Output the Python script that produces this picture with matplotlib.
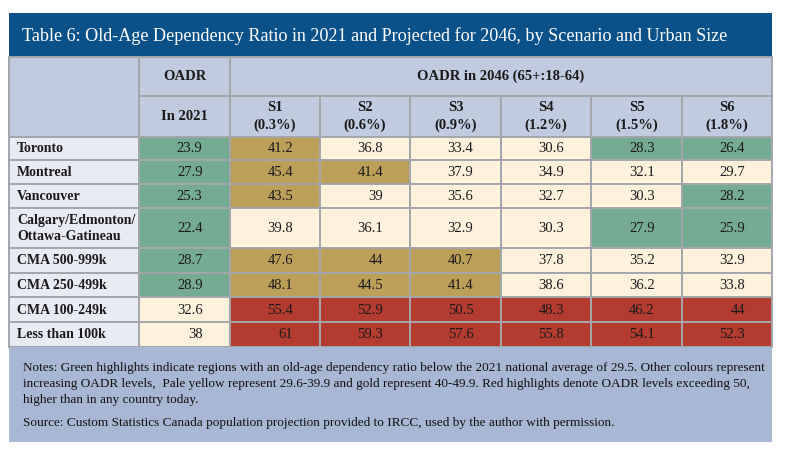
import matplotlib
matplotlib.use("Agg")
import matplotlib.pyplot as plt
from matplotlib.patches import Rectangle

title = ("Table 6: Old-Age Dependency Ratio in 2021 and Projected for 2046, "
         "by Scenario and Urban Size")
regions = ["Toronto", "Montreal", "Vancouver", "Calgary/Edmonton/\nOttawa-Gatineau",
           "CMA 500-999k", "CMA 250-499k", "CMA 100-249k", "Less than 100k"]
scenarios = ["S1\n(0.3%)", "S2\n(0.6%)", "S3\n(0.9%)",
             "S4\n(1.2%)", "S5\n(1.5%)", "S6\n(1.8%)"]
oadr_2021 = [23.9, 27.9, 25.3, 22.4, 28.7, 28.9, 32.6, 38]
s1 = [41.2, 45.4, 43.5, 39.8, 47.6, 48.1, 55.4, 61]
s2 = [36.8, 41.4, 39, 36.1, 44, 44.5, 52.9, 59.3]
s3 = [33.4, 37.9, 35.6, 32.9, 40.7, 41.4, 50.5, 57.6]
s4 = [30.6, 34.9, 32.7, 30.3, 37.8, 38.6, 48.3, 55.8]
s5 = [28.3, 32.1, 30.3, 27.9, 35.2, 36.2, 46.2, 54.1]
s6 = [26.4, 29.7, 28.2, 25.9, 32.9, 33.8, 44, 52.3]
# highlight band of every cell as printed (G green, Y pale yellow, O gold, R red)
shade = ["GOYYYGG", "GOOYYYY", "GOYYYYG", "GYYYYGG",
         "GOOOYYY", "GOOOYYY", "YRRRRRR", "YRRRRRR"]
notes = [
    "Notes: Green highlights indicate regions with an old-age dependency ratio below "
    "the 2021 national average of 29.5. Other colours represent",
    "increasing OADR levels,  Pale yellow represent 29.6-39.9 and gold represent "
    "40-49.9. Red highlights denote OADR levels exceeding 50,",
    "higher than in any country today.",
]
source = ("Source: Custom Statistics Canada population projection provided to IRCC, "
          "used by the author with permission.")

# ---- styling ----
band_colors = {"G": "#75aa93", "Y": "#fef2dd", "O": "#bc9f58", "R": "#b43b2f"}
TITLE_BG = "#0b5189"
HEAD_BG = "#c1cbdf"
LABEL_BG = "#e9ebf3"
NOTE_BG = "#a8b7d3"
GRID = "#a3a6ab"
SERIF = ["Liberation Serif", "DejaVu Serif"]

# layout in pixels
col_edges = [9, 139, 230, 320, 410, 501, 591, 682, 772]
row_edges = [137, 160, 184, 208, 248, 273, 297, 322, 347]
title_top, head_top, head_mid = 13, 57, 96

fig = plt.figure(figsize=(8, 4.59), dpi=100)
ax = fig.add_axes([0, 0, 1, 1])
ax.set_xlim(0, 800)
ax.set_ylim(459, 0)
ax.axis("off")


def cell(x0, x1, y0, y1, color, lw=1.4):
    ax.add_patch(Rectangle((x0, y0), x1 - x0, y1 - y0, facecolor=color,
                           edgecolor=GRID, linewidth=lw))


def fit(t, width):
    r = fig.canvas.get_renderer()
    w = t.get_window_extent(r).width
    t.set_fontsize(t.get_fontsize() * width / w)


# title band
ax.add_patch(Rectangle((col_edges[0], title_top), col_edges[-1] - col_edges[0],
                       head_top - title_top, facecolor=TITLE_BG, edgecolor="none"))
tt = ax.text(22, 36, title, color="white", fontsize=14, family=SERIF,
             va="center", ha="left")
fit(tt, 711)

# header rows
cell(col_edges[0], col_edges[1], head_top, row_edges[0], HEAD_BG)
cell(col_edges[1], col_edges[2], head_top, head_mid, HEAD_BG)
cell(col_edges[1], col_edges[2], head_mid, row_edges[0], HEAD_BG)
cell(col_edges[2], col_edges[-1], head_top, head_mid, HEAD_BG)
hkw = dict(fontsize=10.5, fontweight="bold", family=SERIF, ha="center",
           va="center", color="#1a1a1a")
ax.text((col_edges[1] + col_edges[2]) / 2, (head_top + head_mid) / 2, "OADR", **hkw)
ax.text((col_edges[1] + col_edges[2]) / 2, (head_mid + row_edges[0]) / 2,
        "In 2021", **hkw)
ax.text((col_edges[2] + col_edges[-1]) / 2, (head_top + head_mid) / 2,
        "OADR in 2046 (65+:18-64)", **hkw)
for j, name in enumerate(scenarios):
    x0, x1 = col_edges[j + 2], col_edges[j + 3]
    cell(x0, x1, head_mid, row_edges[0], HEAD_BG)
    ax.text((x0 + x1) / 2, (head_mid + row_edges[0]) / 2, name,
            linespacing=1.35, **hkw)

# body
columns = [oadr_2021, s1, s2, s3, s4, s5, s6]
for i, region in enumerate(regions):
    y0, y1 = row_edges[i], row_edges[i + 1]
    ym = (y0 + y1) / 2
    cell(col_edges[0], col_edges[1], y0, y1, LABEL_BG)
    ax.text(17, ym + 0.5, region, fontsize=10, fontweight="bold", family=SERIF,
            ha="left", va="center", linespacing=1.3, color="#1a1a1a")
    for j, col in enumerate(columns):
        x0, x1 = col_edges[j + 1], col_edges[j + 2]
        cell(x0, x1, y0, y1, band_colors[shade[i][j]])
        ax.text((x0 + x1) / 2 + 18, ym + 0.5, f"{col[i]:g}", fontsize=10.5,
                family=SERIF, ha="right", va="center", color="#1a1a1a")

# notes box
ax.add_patch(Rectangle((col_edges[0], row_edges[-1]), col_edges[-1] - col_edges[0],
                       442 - row_edges[-1], facecolor=NOTE_BG, edgecolor="none"))
note_y = [368, 384, 400]
nts = []
for y, line in zip(note_y, notes):
    nts.append(ax.text(23, y, line, fontsize=9, family=SERIF, ha="left",
                       va="center", color="#111111"))
fit(nts[0], 745)
for t in nts[1:]:
    t.set_fontsize(nts[0].get_fontsize())
ax.text(23, 423, source, fontsize=nts[0].get_fontsize(), family=SERIF,
        ha="left", va="center", color="#111111")

fig.savefig("out.png", dpi=100, facecolor="white")
